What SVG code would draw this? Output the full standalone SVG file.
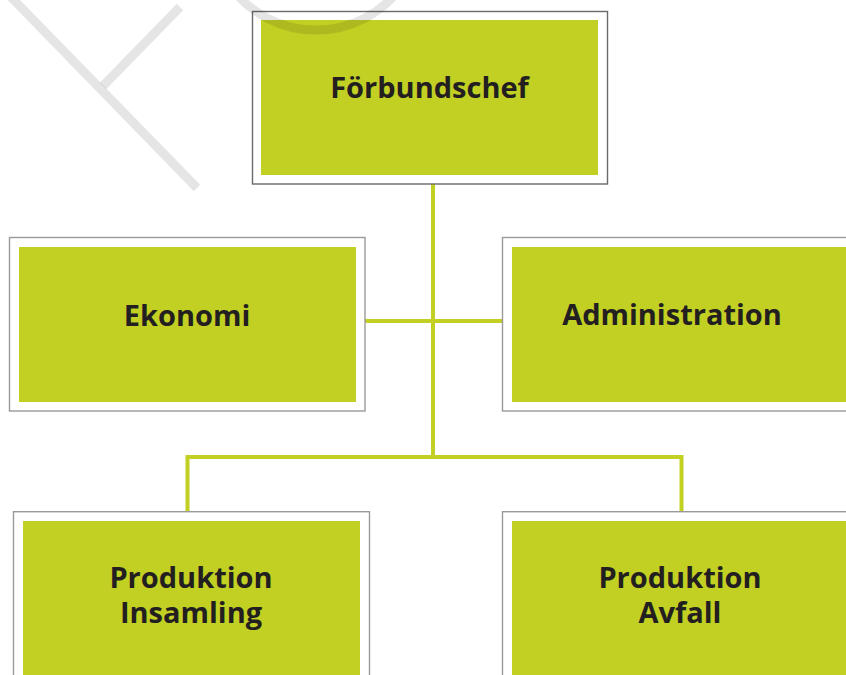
<svg xmlns="http://www.w3.org/2000/svg" width="846" height="675" viewBox="0 0 846 675">
  <style>
    .frame { fill: #ffffff; stroke: #9a9a9a; stroke-width: 1.4; }
    .frame.dark { stroke: #6a6a6a; }
    .box { fill: #c2cf23; }
    .label { font-family: "Open Sans", "Noto Sans", "DejaVu Sans", sans-serif; font-weight: 700; font-size: 29px; fill: #231f20; text-anchor: middle; }
    .conn { fill: none; stroke: #c2cf23; stroke-width: 4; }
    .wm { fill: none; stroke: #000000; stroke-opacity: 0.1; stroke-width: 9; }
  </style>
  <rect width="846" height="675" fill="#ffffff"/>

  <g id="connectors">
    <line class="conn" x1="433" y1="184" x2="433" y2="457"/>
    <line class="conn" x1="365" y1="321" x2="502" y2="321"/>
    <polyline class="conn" points="187.5,511 187.5,457 681.5,457 681.5,511"/>
  </g>

  <g id="forbundschef">
    <rect class="frame dark" x="252.5" y="11.5" width="355" height="172.5"/>
    <rect class="box" x="261" y="20" width="337" height="155"/>
    <text class="label" x="429.5" y="98">Förbundschef</text>
  </g>

  <g id="ekonomi">
    <rect class="frame" x="9.5" y="237.5" width="355.5" height="173.5"/>
    <rect class="box" x="19" y="247" width="337" height="155"/>
    <text class="label" x="187" y="326">Ekonomi</text>
  </g>

  <g id="administration">
    <rect class="frame" x="502.5" y="237.5" width="360" height="173.5"/>
    <rect class="box" x="512" y="247" width="340" height="155"/>
    <text class="label" x="672" y="325">Administration</text>
  </g>

  <g id="produktion-insamling">
    <rect class="frame" x="13.5" y="511.7" width="356" height="200"/>
    <rect class="box" x="23" y="521" width="337" height="200"/>
    <text class="label" x="191" y="587.5">Produktion<tspan x="191" dy="35">Insamling</tspan></text>
  </g>

  <g id="produktion-avfall">
    <rect class="frame" x="502.5" y="511.7" width="360" height="200"/>
    <rect class="box" x="512" y="521" width="340" height="200"/>
    <text class="label" x="680" y="587.5">Produktion<tspan x="680" dy="35">Avfall</tspan></text>
  </g>

  <g id="watermark">
    <line class="wm" x1="8" y1="-6" x2="197" y2="188"/>
    <line class="wm" x1="180" y1="7" x2="103" y2="86"/>
    <path class="wm" d="M 233 -10 A 106 106 0 0 0 399 -10"/>
  </g>
</svg>
